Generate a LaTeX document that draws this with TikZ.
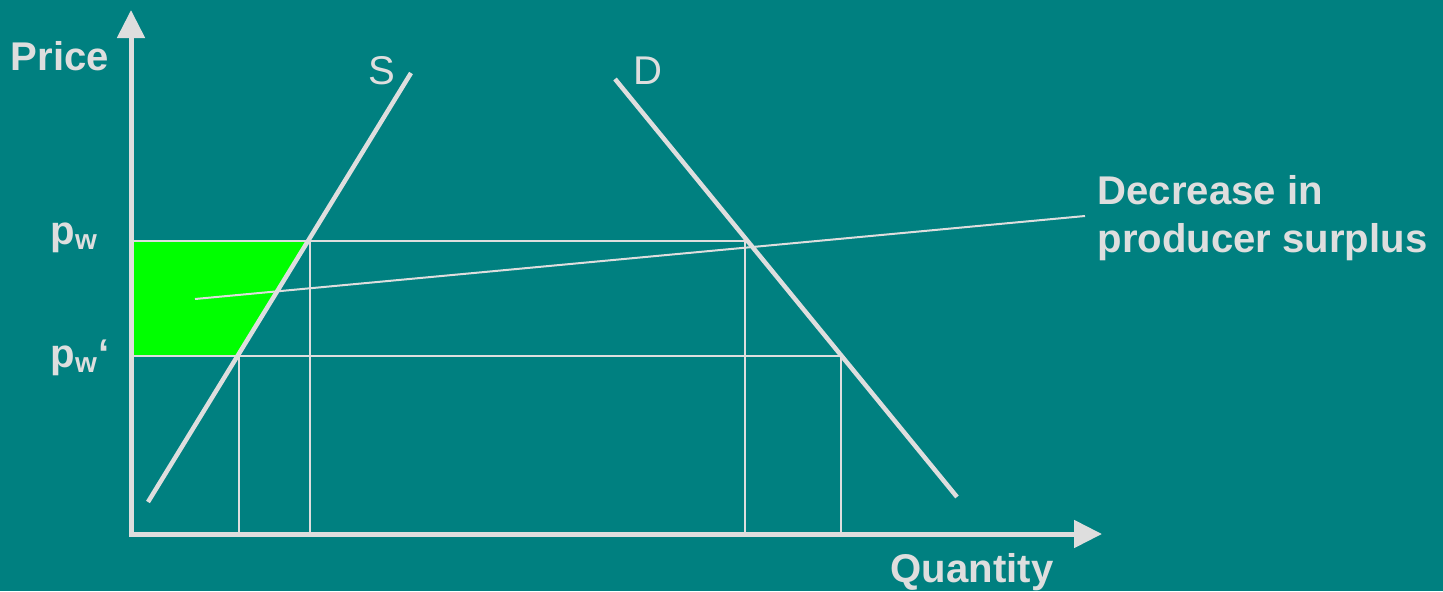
\documentclass[tikz,border=0pt]{standalone}
\usepackage{fontspec}
\setmainfont{Liberation Sans}
\usetikzlibrary{arrows.meta,positioning,calc}
\definecolor{slidebg}{HTML}{008080}
\definecolor{inkline}{HTML}{DEDEDE}
\definecolor{psfill}{HTML}{00FF00}

\begin{document}
\begin{tikzpicture}[
  x=0.01cm, y=-0.01cm,
  font=\fontsize{11.4pt}{13.4pt}\selectfont,
  axis/.style  = {draw=inkline, line width=0.05cm,
                  {Triangle[length=0.28cm, width=0.27cm]}-{Triangle[length=0.28cm, width=0.27cm]}},
  curve/.style = {draw=inkline, line width=0.045cm},
  guide/.style = {draw=inkline, line width=0.015cm},
  lead/.style  = {draw=inkline, line width=0.02cm},
  lbl/.style   = {text=inkline, inner sep=0pt, anchor=base west},
]

% --- the slide ---------------------------------------------------------------------------------
\fill[slidebg] (0,0) rectangle (1443,591);
\useasboundingbox (0,0) rectangle (1443,591);

% --- the points on the two curves --------------------------------------------------------------
\coordinate (O)    at (131,534);
\coordinate (ytip) at (131,10);
\coordinate (xtip) at (1102,534);
\coordinate (s0)   at (148,502);
\coordinate (s1)   at (411,73);
\coordinate (d0)   at (615,79);
\coordinate (d1)   at (957,497);
\coordinate (pw)   at (131,241);
\coordinate (pwl)  at (131,356);
\coordinate (sw)   at (308,241);
\coordinate (swl)  at (237.5,356);
\coordinate (dw)   at (747,241);
\coordinate (dwl)  at (841,356);

% --- the lost surplus --------------------------------------------------------------------------
\fill[psfill] (pw) -- (sw) -- (swl) -- (pwl) -- cycle;

% --- the two price levels, and down to the quantities -----------------------------------------
\draw[guide] (pw) -- (dw);
\draw[guide] (pwl) -- (dwl);
\draw[guide] ([xshift=0.02cm]sw) -- ([xshift=0.02cm]sw |- O);
\draw[guide] ([xshift=0.015cm]swl) -- ([xshift=0.015cm]swl |- O);
\draw[guide] ([xshift=-0.02cm]dw) -- ([xshift=-0.02cm]dw |- O);
\draw[guide] (dwl) -- (dwl |- O);

% --- supply and demand -------------------------------------------------------------------------
\draw[curve] (s0) -- (s1);
\draw[curve] (d0) -- (d1);

% --- axes --------------------------------------------------------------------------------------
\draw[axis] (ytip) -- (O) -- (xtip);

% --- labels ------------------------------------------------------------------------------------
\node[lbl, font=\fontsize{11.4pt}{13.4pt}\selectfont\bfseries] (price) at (10,71)  {Price};
\node[lbl, font=\fontsize{11.4pt}{13.4pt}\selectfont\bfseries] (qty)   at (890,582) {Quantity};
\node[lbl] (slbl) at (368,85) {S};
\node[lbl] (dlbl) at (633,85) {D};
\node[lbl, font=\fontsize{11.4pt}{13.4pt}\selectfont\bfseries] (pwlbl)  at (50,244) {p\textsubscript{w}};
\node[lbl, font=\fontsize{11.4pt}{13.4pt}\selectfont\bfseries] (pwllbl) at (50,367) {p\textsubscript{w}‘};

\node[text=inkline, inner sep=0.12cm, anchor=west, align=left,
      font=\fontsize{11.4pt}{13.8pt}\selectfont\bfseries] (dps) at (1085,218)
      {Decrease in\\producer surplus};
\coordinate (leadin) at (195,299);
\draw[lead] (leadin) -- ([yshift=0.02cm]dps.west);

\end{tikzpicture}
\end{document}
